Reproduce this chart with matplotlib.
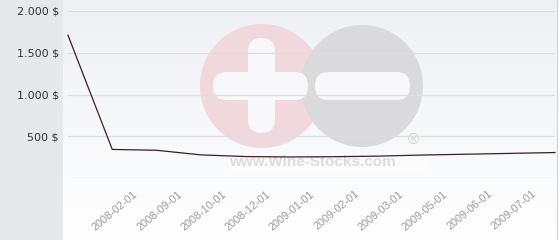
import matplotlib
matplotlib.use("Agg")
import matplotlib.pyplot as plt
import numpy as np
from matplotlib.patches import Circle, FancyBboxPatch, Rectangle

# price history, one point per category (first/last labels are cut off in the source)
prices = [1710, 345, 335, 280, 260, 255, 258, 265, 278, 288, 298, 308]
date_labels = ['2008-02-01', '2008-09-01', '2008-10-01', '2008-12-01', '2009-01-01',
               '2009-02-01', '2009-03-01', '2009-05-01', '2009-06-01', '2009-07-01']
label_idx = [1, 2, 3, 4, 5, 6, 7, 8, 9, 10]
y_ticks = [0, 500, 1000, 1500, 2000]
y_labels = ['', '500 $', '1.000 $', '1.500 $', '2.000 $']

W, H = 560, 240
fig = plt.figure(figsize=(W / 100, H / 100), dpi=100)
fig.patch.set_facecolor('white')

# background layer in pixel coordinates
bg = fig.add_axes([0, 0, 1, 1])
bg.set_xlim(0, W)
bg.set_ylim(H, 0)
bg.axis('off')
grad = np.linspace(0, 1, 256).reshape(-1, 1)
top = np.array([238, 240, 244]) / 255
bottom = np.array([255, 255, 255]) / 255
img = top + (bottom - top) * grad[..., None]
bg.imshow(img, extent=(63, 557, H, 0), aspect='auto', zorder=0)
bg.add_patch(Rectangle((0, 0), 63, H, color='#e6e9ec', zorder=1, lw=0))
bg.plot([556.5, 556.5], [0, H], color='#d3d6db', lw=0.9, zorder=1)

# wine-stocks watermark
bg.add_patch(Circle((262, 86), 62, color='#f0d8dd', lw=0, zorder=2))
bg.add_patch(Circle((362, 86), 61, color='#dadadc', lw=0, zorder=3))
for x0, y0, w, h in [(248, 38, 27, 95), (213, 72, 95, 28), (315, 72, 95, 28)]:
    bg.add_patch(FancyBboxPatch((x0, y0), w, h, boxstyle='round,pad=0,rounding_size=13.5',
                                color='#f8f8fa', lw=0, zorder=4))
bg.add_patch(Rectangle((228, 154), 199, 19, color='#fbfbfc', lw=0, zorder=4))
bg.text(312, 162, 'www.Wine-Stocks.com', ha='center', va='center', fontsize=11,
        fontweight='bold', family='Liberation Sans', color='#dcdcde', zorder=5)
bg.text(413, 140, '®', ha='center', va='center', fontsize=11,
        family='Liberation Sans', color='#d0d0d2', zorder=5)

# main chart
ax = fig.add_axes([68 / W, (H - 178.3) / H, (555 - 68) / W, (178.3 - 11) / H])
ax.patch.set_alpha(0)
ax.set_xlim(0, len(prices) - 1)
ax.set_ylim(0, 2000)
for s in ax.spines.values():
    s.set_visible(False)

ax.set_yticks(y_ticks)
ax.set_yticklabels(y_labels)
ax.yaxis.grid(True, color='#dcdee3', lw=0.9)
ax.set_axisbelow(True)
ax.tick_params(axis='y', length=0, pad=6.5, labelsize=8, labelcolor='#333333')
ax.set_xticks([])

ax.plot(range(len(prices)), prices, color='#3b1d2b', lw=0.9, clip_on=False, zorder=3)

for i, lbl in zip(label_idx, date_labels):
    ax.annotate(lbl, xy=(i, 0), xycoords=('data', 'axes fraction'),
                xytext=(15, -7.5), textcoords='offset points',
                rotation=40, rotation_mode='anchor', ha='right', va='top',
                fontsize=7.8, family='Liberation Sans', color='#9a9a9a',
                annotation_clip=False)

fig.savefig('out.png', dpi=100)
